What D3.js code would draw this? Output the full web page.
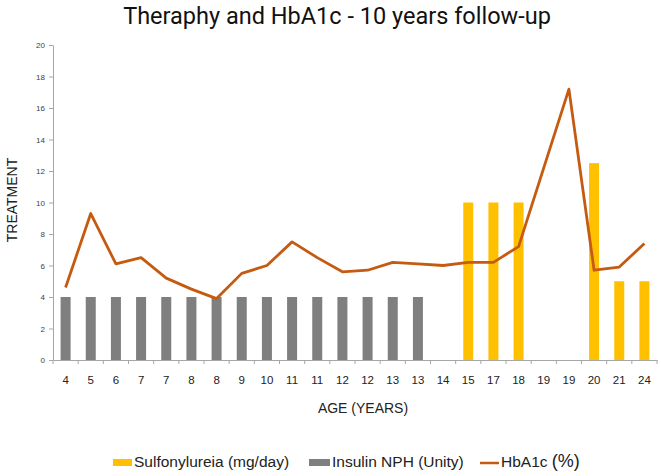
<!DOCTYPE html>
<html><head><meta charset="utf-8">
<script src="https://cdn.jsdelivr.net/npm/d3@7"></script>
<style>body{margin:0;background:#fff}svg{display:block}</style>
</head><body>
<script>
const ages = ["4","5","6","7","7","8","8","9","10","11","11","12","12","13","13","14","15","17","18","19","19","20","21","24"];
const sulfonylureia = [null,null,null,null,null,null,null,null,null,null,null,null,null,null,null,null,10,10,10,null,null,12.5,5,5];
const insulin = [4,4,4,4,4,4,4,4,4,4,4,4,4,4,4,null,null,null,null,null,null,null,null,null];
const hba1c = [4.6,9.3,6.1,6.5,5.2,4.5,3.9,5.5,6.0,7.5,6.5,5.6,5.7,6.2,6.1,6.0,6.2,6.2,7.2,12.2,17.2,5.7,5.9,7.4];
const yTicks = [0,2,4,6,8,10,12,14,16,18,20];

const W = 661, H = 476;
const m = {left:53, right:4, top:45, bottom:116};
const svg = d3.select("body").append("svg").attr("width", W).attr("height", H);
const idx = ages.map((_, i) => i);
const x = d3.scaleBand().domain(idx).range([m.left, W - m.right]).paddingInner(0).paddingOuter(0);
const y = d3.scaleLinear().domain([0, 20]).range([H - m.bottom, m.top]);
const bw = 10;
const FF = "'Liberation Sans', Arial, sans-serif";

svg.append("text").attr("x", 337).attr("y", 24).attr("text-anchor", "middle")
  .attr("font-family", "Roboto, 'Liberation Sans', sans-serif").attr("font-size", 23.5).attr("fill", "#111")
  .text("Theraphy and HbA1c - 10 years follow-up");

// y axis
const ya = svg.append("g").attr("transform", `translate(${m.left},0)`)
  .call(d3.axisLeft(y).tickValues(yTicks).tickSize(4).tickSizeOuter(0));
ya.select(".domain").attr("stroke", "#a6a6a6");
ya.selectAll(".tick line").attr("stroke", "#a6a6a6");
ya.selectAll(".tick text").attr("font-family", FF).attr("font-size", 8).attr("fill", "#404040").attr("x", -8);

// bars
svg.append("g").selectAll("rect").data(insulin.map((v, i) => ({v, i})).filter(d => d.v != null)).join("rect")
  .attr("x", d => x(d.i) + x.bandwidth()/2 - bw/2).attr("width", bw)
  .attr("y", d => y(d.v)).attr("height", d => y(0) - y(d.v)).attr("fill", "#7f7f7f");
svg.append("g").selectAll("rect").data(sulfonylureia.map((v, i) => ({v, i})).filter(d => d.v != null)).join("rect")
  .attr("x", d => x(d.i) + x.bandwidth()/2 - bw/2).attr("width", bw)
  .attr("y", d => y(d.v)).attr("height", d => y(0) - y(d.v)).attr("fill", "#ffc000");

// x axis
const xa = svg.append("g").attr("transform", `translate(0,${H - m.bottom})`)
  .call(d3.axisBottom(x).tickFormat(i => ages[i]).tickSize(0).tickPadding(16));
xa.select(".domain").attr("stroke", "#a6a6a6");
xa.selectAll(".tick text").attr("font-family", FF).attr("font-size", 11.5).attr("fill", "#222");
svg.append("g").selectAll("line").data(d3.range(ages.length + 1)).join("line")
  .attr("x1", i => m.left + i * x.bandwidth()).attr("x2", i => m.left + i * x.bandwidth())
  .attr("y1", H - m.bottom).attr("y2", H - m.bottom + 4).attr("stroke", "#a6a6a6");

// line
svg.append("path").datum(hba1c.map((v, i) => ({v, i})))
  .attr("fill", "none").attr("stroke", "#c55a11").attr("stroke-width", 2.8).attr("stroke-linejoin", "round")
  .attr("d", d3.line().x(d => x(d.i) + x.bandwidth()/2).y(d => y(d.v)));

// axis titles
svg.append("text").attr("transform", `translate(17,200) rotate(-90)`).attr("text-anchor", "middle")
  .attr("font-family", FF).attr("font-size", 14).attr("fill", "#222").text("TREATMENT");
svg.append("text").attr("x", 363).attr("y", 413).attr("text-anchor", "middle")
  .attr("font-family", FF).attr("font-size", 14).attr("fill", "#222").text("AGE (YEARS)");

// legend
const lg = svg.append("g").attr("font-family", FF).attr("font-size", 15.5).attr("fill", "#222");
lg.append("rect").attr("x", 113).attr("y", 459).attr("width", 19).attr("height", 7).attr("fill", "#ffc000");
lg.append("text").attr("x", 134).attr("y", 467).text("Sulfonylureia (mg/day)");
lg.append("rect").attr("x", 309).attr("y", 459).attr("width", 21).attr("height", 7).attr("fill", "#7f7f7f");
lg.append("text").attr("x", 332).attr("y", 467).text("Insulin NPH (Unity)");
lg.append("line").attr("x1", 480).attr("x2", 499).attr("y1", 463).attr("y2", 463).attr("stroke", "#c55a11").attr("stroke-width", 2.5);
const ht = lg.append("text").attr("x", 501).attr("y", 467);
ht.append("tspan").text("HbA1c ");
ht.append("tspan").attr("font-size", 18).text("(%)");
</script>
</body></html>
